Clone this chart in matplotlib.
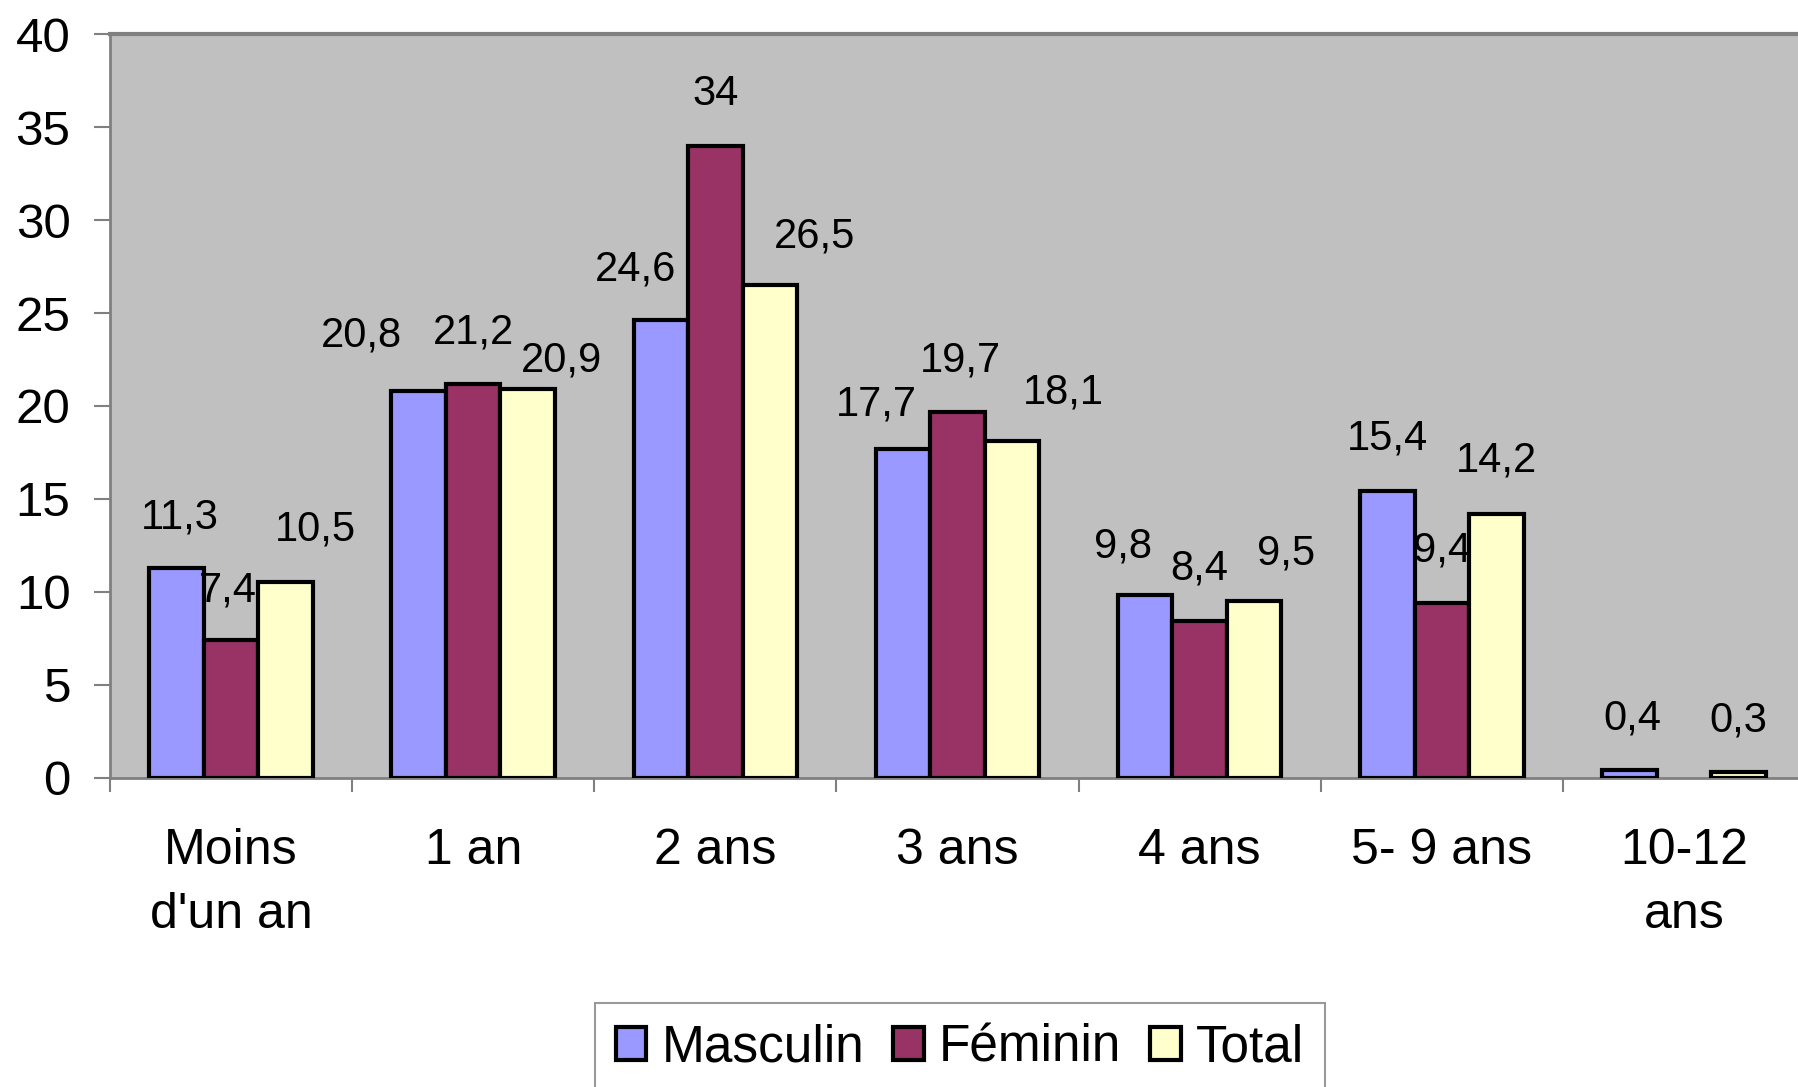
import numpy as np
import matplotlib
matplotlib.use("Agg")
import matplotlib.pyplot as plt

plt.rcParams['font.family'] = ['Liberation Sans', 'DejaVu Sans']

categories = ["Moins\nd'un an", "1 an", "2 ans", "3 ans", "4 ans", "5- 9 ans", "10-12\nans"]
masculin = [11.3, 20.8, 24.6, 17.7, 9.8, 15.4, 0.4]
feminin = [7.4, 21.2, 34.0, 19.7, 8.4, 9.4, np.nan]
total = [10.5, 20.9, 26.5, 18.1, 9.5, 14.2, 0.3]
series_names = ["Masculin", "Féminin", "Total"]
label_text = [
    ["11,3", "20,8", "24,6", "17,7", "9,8", "15,4", "0,4"],
    ["7,4", "21,2", "34", "19,7", "8,4", "9,4", ""],
    ["10,5", "20,9", "26,5", "18,1", "9,5", "14,2", "0,3"],
]

# label nudges (points), taken from where the original labels sit
label_nudge = [
    [(2.5, 36), (-41, 40), (-18, 37), (-19, 32), (-16, 35), (0, 38), (2, 37)],
    [(-2, 35.5), (0, 37), (0, 37), (2, 37), (0, 38), (0, 38), (0, 37)],
    [(21.5, 38), (24, 21), (32, 35), (37, 35), (23, 34), (0, 38), (0, 37)],
]

colors = ["#9999FF", "#993366", "#FFFFCC"]

W, H = 1798, 1087
fig = plt.figure(figsize=(W / 100, H / 100), dpi=100)
left, right = 110 / W, 1805 / W
bottom, top = 1 - 777.5 / H, 1 - 34.4 / H
ax = fig.add_axes([left, bottom, right - left, top - bottom])
ax.set_facecolor("#C0C0C0")

x = np.arange(len(categories))
bw = 0.225
handles = []
for i, (vals, col) in enumerate(zip([masculin, feminin, total], colors)):
    xs = x + (i - 1) * bw
    b = ax.bar(xs, vals, width=bw, color=col, edgecolor="black", linewidth=3,
               label=series_names[i], zorder=3)
    handles.append(b)
    for j, v in enumerate(vals):
        if np.isnan(v) or not label_text[i][j]:
            continue
        dx, dy = label_nudge[i][j]
        ax.annotate(label_text[i][j], xy=(xs[j], v), xytext=(dx, dy),
                    textcoords="offset points", ha="center", va="center",
                    fontsize=30, color="black", zorder=5)

ax.set_xlim(-0.5, len(categories) - 0.5)
ax.set_ylim(0, 40)
ax.set_yticks(np.arange(0, 41, 5))
ax.tick_params(axis="y", labelsize=35.5, length=11.5, width=1.5, color="#808080", pad=17)

ax.set_xticks(x)
ax.set_xticklabels(categories, fontsize=36, linespacing=1.5)
ax.set_xticks(np.arange(-0.5, len(categories), 1.0), minor=True)
ax.tick_params(axis="x", which="major", length=0, pad=36)
ax.tick_params(axis="x", which="minor", length=10, width=1.5, color="#808080")

for s in ax.spines.values():
    s.set_color("#808080")
    s.set_linewidth(2)
ax.spines["top"].set_linewidth(3)

leg = fig.legend(handles=handles, labels=series_names, loc="upper left",
                 bbox_to_anchor=(595 / W, 1 - 1003 / H), ncol=3, fontsize=37,
                 frameon=True, fancybox=False, handlelength=0.6, handleheight=0.6,
                 handletextpad=0.3, columnspacing=0.55, borderpad=0.4, borderaxespad=0)
leg.get_frame().set_edgecolor("#808080")
leg.get_frame().set_linewidth(1.5)

fig.savefig("out.png", dpi=100, facecolor="white")
